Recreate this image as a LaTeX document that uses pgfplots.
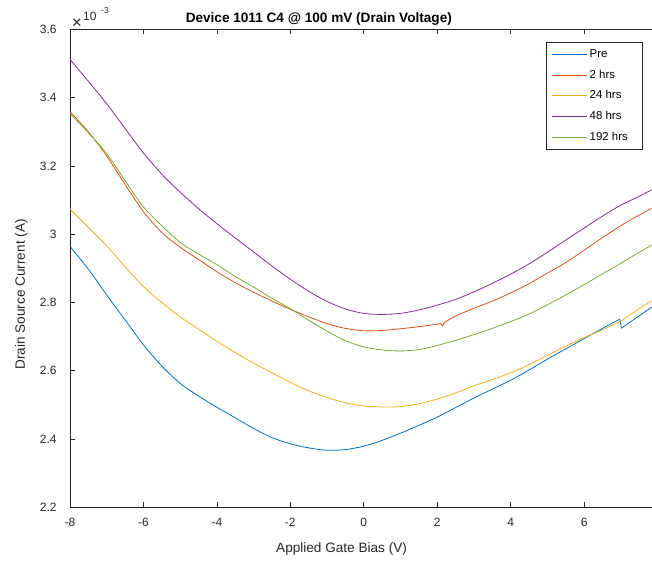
\documentclass[border=0pt]{standalone}
\usepackage{pgfplots}
\pgfplotsset{compat=1.18}
\usepackage{fontspec}
\setmainfont{Liberation Sans}
\definecolor{mblue}{rgb}{0,0.447,0.741}
\definecolor{mred}{rgb}{0.85,0.325,0.098}
\definecolor{myellow}{rgb}{0.929,0.694,0.125}
\definecolor{mpurple}{rgb}{0.494,0.184,0.556}
\definecolor{mgreen}{rgb}{0.466,0.674,0.188}
\definecolor{axgray}{rgb}{0.15,0.15,0.15}
\begin{document}
\begin{tikzpicture}[x=1pt,y=1pt]
\begin{axis}[
  scale only axis, width=436.5pt, height=358.6pt,
  xmin=-8, xmax=7.84, ymin=2.2, ymax=3.6,
  axis x line=box, axis y line=left,
  axis line style={-, draw=axgray, line width=0.5pt},
  tick align=inside, major tick length=3.75pt,
  tick style={axgray, line width=0.5pt},
  xtick={-8,-6,-4,-2,0,2,4,6},
  ytick={2.2,2.4,2.6,2.8,3,3.2,3.4,3.6},
  /pgf/number format/assume math mode=true,
  ticklabel style={font=\fontsize{9}{10}\selectfont, text=axgray},
  yticklabel style={xshift=-6.5pt},
  xticklabel style={yshift=-4.5pt},
  legend style={at={(0.9845,0.9728)}, anchor=north east, draw=axgray, line width=0.5pt,
    font=\fontsize{8.6}{10}\selectfont, row sep=3.9pt, inner xsep=3.5pt, inner ysep=3pt},
  legend cell align=left,
  legend image code/.code={\draw[#1,line width=0.6pt] (0pt,0pt) -- (26.25pt,0pt);},
  every axis plot/.append style={line width=0.6pt, mark=none},
]
\addplot[mblue, smooth, tension=0.5] coordinates {
(-8,2.964) (-7.5,2.898) (-7,2.822) (-6.5,2.749) (-6,2.676) (-5.5,2.614) (-5,2.563)
(-4.5,2.526) (-4,2.493) (-3.5,2.462) (-3,2.431) (-2.5,2.404) (-2,2.386) (-1.5,2.374)
(-1,2.367) (-0.5,2.369) (0,2.379) (0.5,2.396) (1,2.417) (1.5,2.440) (2,2.464)
(2.5,2.492) (3,2.520) (3.5,2.546) (4,2.572) (4.5,2.602) (5,2.634) (5.5,2.664)
(6,2.694) (6.5,2.724) (6.97,2.751)};
\addlegendentry{\makebox[34pt][l]{Pre}}
\addplot[mblue, forget plot] coordinates {
(6.97,2.751) (7.02,2.725) (7.5,2.761) (7.84,2.786)};
\addplot[mred, smooth, tension=0.5] coordinates {
(-8,3.359) (-7.5,3.300) (-7,3.229) (-6.5,3.146) (-6,3.066) (-5.5,3.005) (-5,2.962)
(-4.5,2.926) (-4,2.890) (-3.5,2.858) (-3,2.830) (-2.5,2.804) (-2,2.780) (-1.5,2.758)
(-1,2.738) (-0.5,2.724) (0,2.717) (0.5,2.718) (1,2.723) (1.5,2.729) (2.1,2.738)};
\addlegendentry{\makebox[34pt][l]{2 hrs}}
\addplot[mred, forget plot] coordinates {
(2.1,2.738) (2.14,2.731) (2.2,2.742)};
\addplot[mred, smooth, tension=0.5, forget plot] coordinates {
(2.2,2.742) (2.5,2.760) (3,2.783) (3.5,2.804) (4,2.828) (4.5,2.855)
(5,2.886) (5.5,2.917) (6,2.953) (6.5,2.990) (7,3.025) (7.5,3.056) (7.84,3.076)};
\addplot[myellow, smooth, tension=0.5] coordinates {
(-8,3.074) (-7.5,3.020) (-7,2.966) (-6.5,2.905) (-6,2.847) (-5.5,2.800) (-5,2.758)
(-4.5,2.722) (-4,2.686) (-3.5,2.653) (-3,2.622) (-2.5,2.594) (-2,2.566) (-1.5,2.541)
(-1,2.522) (-0.5,2.506) (0,2.497) (0.5,2.494) (1,2.495) (1.5,2.503) (2,2.517)
(2.5,2.535) (3,2.556) (3.5,2.574) (4,2.594) (4.5,2.618) (5,2.645) (5.5,2.672)
(6,2.697) (6.5,2.720) (7,2.746) (7.5,2.782) (7.84,2.805)};
\addlegendentry{\makebox[34pt][l]{24 hrs}}
\addplot[mpurple, smooth, tension=0.5] coordinates {
(-8,3.512) (-7.5,3.448) (-7,3.382) (-6.5,3.310) (-6,3.238) (-5.5,3.176) (-5,3.123)
(-4.5,3.075) (-4,3.031) (-3.5,2.989) (-3,2.948) (-2.5,2.907) (-2,2.868) (-1.5,2.833)
(-1,2.803) (-0.5,2.781) (0,2.768) (0.5,2.765) (1,2.768) (1.5,2.778) (2,2.792)
(2.5,2.809) (3,2.831) (3.5,2.856) (4,2.883) (4.5,2.913) (5,2.947) (5.5,2.983)
(6,3.018) (6.5,3.053) (7,3.085) (7.5,3.111) (7.84,3.130)};
\addlegendentry{\makebox[34pt][l]{48 hrs}}
\addplot[mgreen, smooth, tension=0.5] coordinates {
(-8,3.354) (-7.5,3.297) (-7,3.236) (-6.5,3.157) (-6,3.080) (-5.5,3.025) (-5,2.976)
(-4.5,2.942) (-4,2.911) (-3.5,2.876) (-3,2.845) (-2.5,2.812) (-2,2.782) (-1.5,2.748)
(-1,2.716) (-0.5,2.688) (0,2.670) (0.5,2.661) (1,2.658) (1.5,2.662) (2,2.674)
(2.5,2.689) (3,2.706) (3.5,2.724) (4,2.744) (4.5,2.766) (5,2.793) (5.5,2.822)
(6,2.852) (6.5,2.884) (7,2.915) (7.5,2.947) (7.84,2.968)};
\addlegendentry{\makebox[34pt][l]{192 hrs}}
\end{axis}
\path (-52.5pt,-40.5pt) rectangle (436.5pt,380.65pt);
\node[anchor=base, font=\fontsize{10.2}{12}\selectfont\bfseries, inner sep=0pt] at (186.75pt,363.4pt) {Device 1011 C4 @ 100 mV (Drain Voltage)};
\node[anchor=base, font=\fontsize{10.2}{12}\selectfont, text=axgray, inner sep=0pt] at (203.8pt,-33.75pt) {Applied Gate Bias (V)};
\node[anchor=base, rotate=90, font=\fontsize{10.2}{12}\selectfont, text=axgray, inner sep=0pt] at (-33.75pt,159.75pt) {Drain Source Current (A)};
\node[anchor=center, font=\fontsize{13}{14}\selectfont, text=axgray, inner sep=0pt] at (5.25pt,362.8pt) {×};
\node[anchor=base west, font=\fontsize{9}{10}\selectfont, text=axgray, inner sep=0pt] at (9.75pt,365.25pt) {10};
\node[anchor=base west, font=\fontsize{6.5}{7}\selectfont, text=axgray, inner sep=0pt] at (23.25pt,370.5pt) {-3};
\end{tikzpicture}
\end{document}
